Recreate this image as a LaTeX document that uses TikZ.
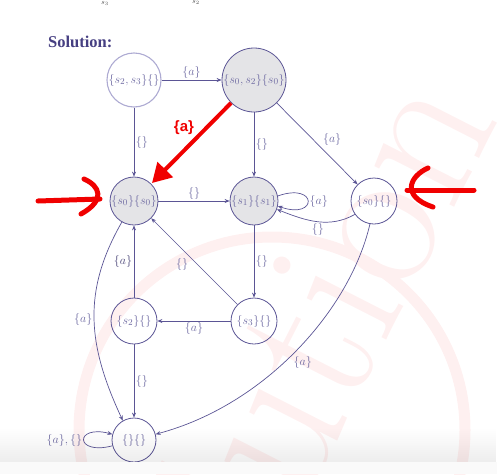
\documentclass[tikz,border=0pt]{standalone}
\usepackage{fontspec}
\newfontfamily\headfont{Liberation Serif}
\newfontfamily\redfont{Liberation Sans}
\usetikzlibrary{arrows.meta,fadings}
\definecolor{ln}{HTML}{5B5595}
\definecolor{tx}{HTML}{6E6AA2}
\definecolor{hd}{HTML}{463F82}
\definecolor{nf}{HTML}{E4E4E7}
\definecolor{pale}{HTML}{ADAAD2}
\definecolor{wm}{HTML}{FEF0F0}
\definecolor{rd}{HTML}{F00000}
\tikzset{
  st/.style={circle, draw=ln, line width=0.8pt, inner sep=0pt},
  acc/.style={st, fill=nf},
  nt/.style={text=tx, font=\fontsize{12.5}{14}\selectfont, inner sep=0pt},
  lb/.style={text=tx, font=\fontsize{12}{14}\selectfont, inner sep=1.5pt},
  ed/.style={draw=ln, line width=0.7pt, -{Stealth[length=5pt,width=4pt]}},
  redline/.style={draw=rd, line width=5pt, line cap=round, line join=round},
}
\begin{document}
\begin{tikzpicture}[x=1pt,y=-1pt]
\useasboundingbox (0,0) rectangle (497,474);
\begin{scope}
\clip (0,0) rectangle (497,474);
% watermark
\draw[wm, line width=11pt] (272,430) circle (193);
\node[text=wm, rotate=63, anchor=base east, inner sep=0pt,
      font=\fontsize{210}{210}\selectfont] (wmk) at (500,118) {Solution};
\end{scope}
% top fragments
\node[font=\fontsize{7}{8}\selectfont, text=black!70] (f1) at (105,3) {$s_3$};
\node[font=\fontsize{7}{8}\selectfont, text=black!70] (f2) at (196,2) {$s_2$};
% heading
\node[anchor=base west, inner sep=0pt, text=hd, font=\headfont\bfseries\fontsize{16.5}{18}\selectfont] (head) at (48,47) {Solution:};
% states
\node[st, draw=pale, line width=1.1pt, minimum size=54pt] (A) at (134,80) {};
\node[acc, minimum size=64pt] (B) at (254,80) {};
\node[acc, minimum size=48pt] (C) at (134,201) {};
\node[acc, minimum size=48pt] (D) at (254,201) {};
\node[st, minimum size=46pt] (E) at (374,201) {};
\node[st, minimum size=46pt] (F) at (134,321) {};
\node[st, minimum size=46pt] (G) at (254,321) {};
\node[st, minimum size=44pt] (H) at (134,440) {};
\node[nt] (tA) at (A) {$\{s_2,s_3\}\{\}$};
\node[nt] (tB) at (B) {$\{s_0,s_2\}\{s_0\}$};
\node[nt] (tC) at (C) {$\{s_0\}\{s_0\}$};
\node[nt] (tD) at (D) {$\{s_1\}\{s_1\}$};
\node[nt] (tE) at (E) {$\{s_0\}\{\}$};
\node[nt] (tF) at (F) {$\{s_2\}\{\}$};
\node[nt] (tG) at (G) {$\{s_3\}\{\}$};
\node[nt] (tH) at (H) {$\{\}\{\}$};
% transitions
\draw[ed] (A) -- node[lb,above] {$\{a\}$} (B);
\draw[ed] (A) -- node[lb,right] {$\{\}$} (C);
\draw[ed] (B) -- node[lb,right] {$\{\}$} (D);
\draw[ed] (B) -- node[lb,above right,pos=0.55] {$\{a\}$} (E);
\draw[ed] (C) -- node[lb,above] {$\{\}$} (D);
\draw[ed] (D.12) .. controls +(40,-14) and +(40,14) .. node[lb,right] {$\{a\}$} (D.-12);
\draw[ed] (E.215) .. controls +(-25,14) and +(30,12) .. node[lb,below] {$\{\}$} (D.-20);
\draw[ed] (D) -- node[lb,right] {$\{\}$} (G);
\draw[ed] (G) -- node[lb,below left,pos=0.55] {$\{\}$} (C);
\draw[ed] (F) -- node[lb,left,text=ln!80!black] {$\{a\}$} (C);
\draw[ed] (G) -- node[lb,below] {$\{a\}$} (F);
\draw[ed] (F) -- node[lb,right] {$\{\}$} (H);
\draw[ed] (C.240) .. controls +(-40,70) and +(-35,-75) .. node[lb,left] {$\{a\}$} (H.120);
\draw[ed] (E.260) .. controls (350,310) and (265,405) .. node[lb,below right,pos=0.52] {$\{a\}$} (H.15);
\draw[ed] (H.195) .. controls +(-38,10) and +(-38,-10) .. node[lb,left] {$\{a\},\{\}$} (H.165);
% red annotations
\draw[draw=rd, line width=4pt, shorten >=1pt, -{Triangle[length=19pt,width=21pt]}] (B.225) -- (C.45);
\node[text=rd, font=\redfont\bfseries\fontsize{15}{17}\selectfont] (ra) at (184,128) {\{a\}};
\coordinate (l1) at (38,201);
\coordinate (l2) at (100,199);
\draw[redline] (l1) -- (l2);
\draw[redline] (84,179) .. controls (100,186) and (106,200) .. (81,214);
\coordinate (r1) at (407,190);
\coordinate (r2) at (474,190);
\draw[redline] (r1) -- (r2);
\draw[redline] (428,168) .. controls (410,176) and (400,196) .. (433,207);
% bottom screen edge
\fill[black, opacity=0.07, path fading=north] (0,428) rectangle (497,462);
\fill[black!2] (0,462) rectangle (497,474);
\end{tikzpicture}
\end{document}
